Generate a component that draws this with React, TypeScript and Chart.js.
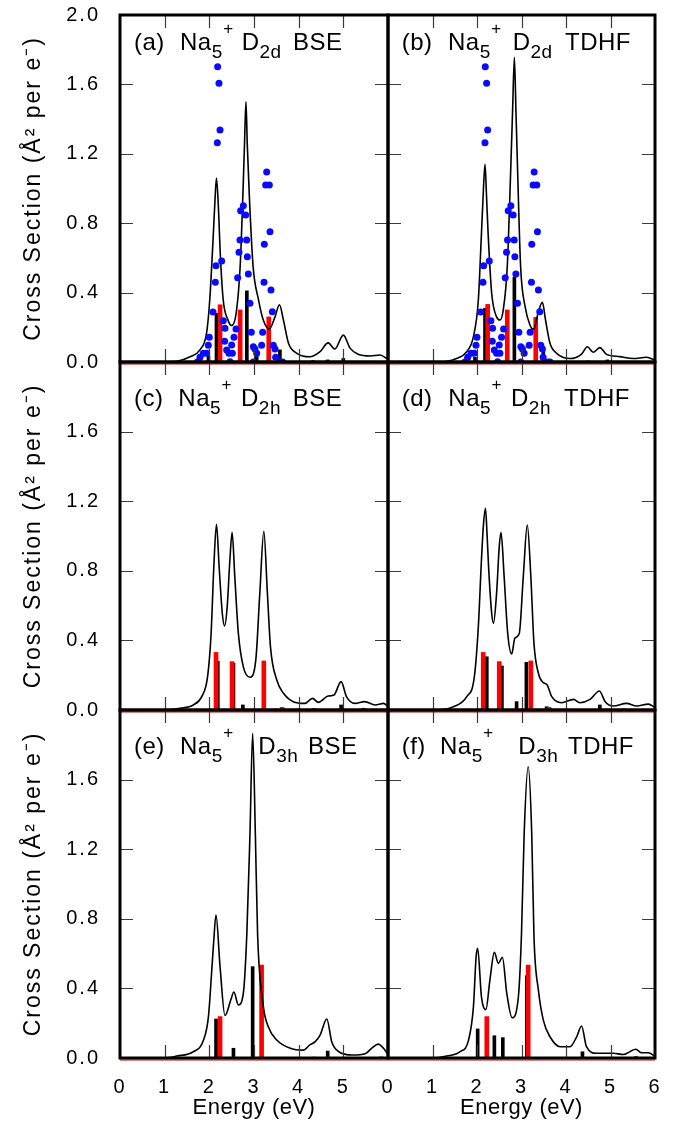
import React, { useEffect, useRef } from 'react';
import { Chart, registerables } from 'chart.js';

Chart.register(...registerables);

type Pt = [number, number];

// ---------- axis ticks ----------
const energyTicks = [0, 1, 2, 3, 4, 5, 6];
const sectionTicks = [0, 0.4, 0.8, 1.2, 1.6, 2.0];

// ---------- experimental points (shown in a and b) ----------
const expDots: Pt[] = [
  [2.186, 1.702], [2.216, 1.606], [2.239, 1.337], [2.179, 1.264], [2.276, 0.582], [2.149, 0.555],
  [2.134, 0.459], [2.082, 0.288], [2.313, 0.238], [1.999, 0.142], [1.977, 0.096], [1.94, 0.05],
  [1.865, 0.05], [1.791, 0.027], [1.731, 0.0], [2.35, 0.194], [2.343, 0.119], [2.388, 0.069],
  [2.44, 0.05], [2.515, 0.05], [2.463, 0.002], [2.761, 0.901], [2.701, 0.872], [2.813, 0.847],
  [2.686, 0.703], [2.836, 0.703], [2.664, 0.632], [2.851, 0.607], [2.873, 0.507], [2.634, 0.486],
  [2.91, 0.338], [2.597, 0.19], [2.552, 0.142], [2.5, 0.098], [2.94, 0.171], [2.985, 0.088],
  [3.022, 0.075], [3.06, 0.05], [2.985, 0.0], [3.284, 1.095], [3.261, 1.02], [3.343, 1.02],
  [3.358, 0.751], [3.231, 0.678], [3.38, 0.415], [3.224, 0.459], [3.41, 0.29], [3.194, 0.171],
  [3.172, 0.096], [3.433, 0.096], [3.47, 0.075], [3.485, 0.027], [3.582, 0.0], [3.642, 0.0],
];

// ---------- (a) D2d BSE ----------
const curveA: Pt[] = [
  [0, 0], [1.0, 0.0], [1.27, 0.004], [1.57, 0.03], [1.79, 0.07], [1.94, 0.17], [2.01, 0.36],
  [2.09, 0.74], [2.127, 0.934], [2.16, 1.06], [2.209, 0.857], [2.24, 0.65], [2.31, 0.36],
  [2.42, 0.24], [2.5, 0.21], [2.6, 0.28], [2.69, 0.55], [2.76, 1.03], [2.79, 1.28], [2.82, 1.5],
  [2.85, 1.25], [2.9, 0.93], [2.98, 0.55], [3.1, 0.36], [3.21, 0.24], [3.34, 0.19], [3.47, 0.26],
  [3.57, 0.33], [3.66, 0.24], [3.77, 0.11], [3.96, 0.05], [4.25, 0.03], [4.48, 0.06], [4.66, 0.11],
  [4.81, 0.075], [5.0, 0.155], [5.15, 0.08], [5.33, 0.045], [5.6, 0.035], [5.82, 0.04], [6.0, 0.015],
];
const redA: Pt[] = [[1.78, 0.02], [2.24, 0.33], [2.69, 0.3], [3.33, 0.26]];
const blackA: Pt[] = [[1.98, 0.035], [2.16, 0.28], [2.84, 0.41], [3.06, 0.035], [3.58, 0.07], [4.32, 0.008], [4.65, 0.012], [5.0, 0.02]];

// ---------- (b) D2d TDHF ----------
const curveB: Pt[] = [
  [0, 0], [1.17, 0.0], [1.54, 0.02], [1.77, 0.06], [1.92, 0.146], [2.03, 0.357], [2.1, 0.74],
  [2.14, 0.97], [2.18, 1.14], [2.215, 0.95], [2.25, 0.74], [2.33, 0.396], [2.44, 0.26], [2.52, 0.242],
  [2.59, 0.3], [2.68, 0.55], [2.76, 1.126], [2.8, 1.45], [2.84, 1.756], [2.875, 1.45], [2.91, 1.126],
  [2.98, 0.55], [3.08, 0.32], [3.19, 0.213], [3.27, 0.188], [3.38, 0.29], [3.47, 0.344], [3.54, 0.242],
  [3.64, 0.108], [3.79, 0.05], [4.09, 0.02], [4.35, 0.046], [4.48, 0.088], [4.61, 0.056], [4.76, 0.083],
  [4.91, 0.044], [5.21, 0.031], [5.51, 0.02], [5.81, 0.027], [6.0, 0.01],
];
const redB: Pt[] = [[1.77, 0.027], [2.24, 0.332], [2.68, 0.3], [3.32, 0.257]];
const blackB: Pt[] = [[1.955, 0.027], [2.18, 0.31], [2.84, 0.488], [3.49, 0.073], [4.5, 0.006], [4.93, 0.012]];

// ---------- (c) D2h BSE ----------
const curveC: Pt[] = [
  [0, 0], [1.0, 0.0], [1.34, 0.01], [1.64, 0.029], [1.83, 0.077], [1.96, 0.19], [2.04, 0.44],
  [2.1, 0.82], [2.16, 1.067], [2.22, 0.82], [2.29, 0.556], [2.34, 0.483], [2.4, 0.594], [2.46, 0.862],
  [2.51, 1.021], [2.57, 0.766], [2.65, 0.44], [2.76, 0.249], [2.91, 0.188], [3.04, 0.287], [3.13, 0.67],
  [3.22, 1.027], [3.3, 0.67], [3.37, 0.36], [3.51, 0.172], [3.66, 0.096], [3.88, 0.048], [4.14, 0.038],
  [4.31, 0.067], [4.44, 0.044], [4.66, 0.08], [4.79, 0.086], [4.95, 0.163], [5.07, 0.077], [5.26, 0.038],
  [5.48, 0.048], [5.71, 0.029], [5.9, 0.038], [6.0, 0.02],
];
const redC: Pt[] = [[2.15, 0.331], [2.51, 0.278], [3.22, 0.282], [3.63, 0.015]];
const blackC: Pt[] = [[2.19, 0.28], [2.54, 0.268], [2.75, 0.029], [3.47, 0.006], [4.0, 0.005], [4.35, 0.008], [4.95, 0.029], [5.45, 0.01]];

// ---------- (d) D2h TDHF ----------
const curveD: Pt[] = [
  [0, 0], [1.02, 0.0], [1.47, 0.019], [1.77, 0.077], [1.94, 0.19], [2.03, 0.479], [2.1, 0.862],
  [2.142, 1.054], [2.19, 1.159], [2.225, 1.015], [2.26, 0.824], [2.33, 0.556], [2.37, 0.498], [2.44, 0.67],
  [2.5, 0.939], [2.54, 1.021], [2.61, 0.766], [2.69, 0.44], [2.78, 0.322], [2.85, 0.412], [2.95, 0.44],
  [3.04, 0.766], [3.13, 1.063], [3.21, 0.766], [3.28, 0.383], [3.38, 0.211], [3.49, 0.157], [3.57, 0.147],
  [3.68, 0.077], [3.9, 0.042], [4.17, 0.061], [4.31, 0.042], [4.54, 0.061], [4.75, 0.109], [4.88, 0.048],
  [5.06, 0.023], [5.36, 0.038], [5.59, 0.023], [5.85, 0.034], [6.0, 0.015],
];
const redD: Pt[] = [[2.14, 0.331], [2.5, 0.278], [3.21, 0.282], [3.62, 0.015]];
const blackD: Pt[] = [[2.22, 0.306], [2.56, 0.253], [2.89, 0.048], [3.11, 0.274], [3.565, 0.019], [4.76, 0.029], [5.3, 0.006]];

// ---------- (e) D3h BSE ----------
const curveE: Pt[] = [
  [0, 0], [1.0, 0.0], [1.27, 0.011], [1.64, 0.036], [1.87, 0.103], [1.98, 0.238], [2.05, 0.487],
  [2.1, 0.678], [2.149, 0.822], [2.24, 0.525], [2.35, 0.244], [2.48, 0.333], [2.55, 0.379], [2.65, 0.305],
  [2.76, 0.37], [2.84, 0.716], [2.91, 1.29], [2.97, 1.866], [3.03, 1.29], [3.08, 0.716], [3.21, 0.295],
  [3.32, 0.18], [3.51, 0.103], [3.81, 0.056], [4.1, 0.045], [4.25, 0.075], [4.37, 0.094], [4.48, 0.132],
  [4.63, 0.224], [4.74, 0.094], [4.9, 0.036], [5.2, 0.017], [5.5, 0.026], [5.65, 0.06], [5.78, 0.08],
  [5.9, 0.056], [6.0, 0.02],
];
const redE: Pt[] = [[2.24, 0.238], [3.17, 0.534]];
const blackE: Pt[] = [[2.15, 0.224], [2.54, 0.056], [2.97, 0.525], [4.35, 0.005], [4.65, 0.04], [5.85, 0.006]];

// ---------- (f) D3h TDHF ----------
const curveF: Pt[] = [
  [0, 0], [1.0, 0.0], [1.32, 0.011], [1.62, 0.036], [1.81, 0.103], [1.92, 0.295], [1.98, 0.582],
  [2.015, 0.63], [2.1, 0.352], [2.2, 0.278], [2.29, 0.448], [2.39, 0.607], [2.48, 0.544], [2.57, 0.579],
  [2.67, 0.37], [2.79, 0.231], [2.93, 0.352], [3.0, 0.716], [3.06, 1.29], [3.15, 1.674], [3.23, 1.29],
  [3.28, 0.7], [3.38, 0.39], [3.49, 0.218], [3.64, 0.122], [3.87, 0.065], [4.09, 0.065], [4.24, 0.122],
  [4.35, 0.184], [4.46, 0.065], [4.69, 0.027], [5.06, 0.027], [5.29, 0.02], [5.57, 0.05], [5.7, 0.03],
  [5.85, 0.03], [6.0, 0.01],
];
const redF: Pt[] = [[2.22, 0.238], [3.15, 0.534]];
const blackF: Pt[] = [[2.015, 0.167], [2.39, 0.128], [2.58, 0.117], [3.12, 0.473], [4.37, 0.036], [5.57, 0.008]];

// ---------- panel labels ----------
const panelTags = ['(a)', '(b)', '(c)', '(d)', '(e)', '(f)'];
const panelSyms = ['2d', '2d', '2h', '2h', '3h', '3h'];
const panelMethods = ['BSE', 'TDHF', 'BSE', 'TDHF', 'BSE', 'TDHF'];

const yTitle = 'Cross Section (Å² per e⁻)';
const xTitle = 'Energy (eV)';

const FONT = '"Liberation Sans", Arial, Helvetica, sans-serif';

// layout (page pixels)
const COLS = [
  { cl: 0, cw: 400, padL: 0, padR: 12 },
  { cl: 376, cw: 313, padL: 12, padR: 34 },
];
const ROWS = [
  { ct: 0, ch: 380, padT: 15, padB: 18, titleDy: 35 },
  { ct: 344, ch: 384, padT: 18, padB: 18, titleDy: 44 },
  { ct: 692, ch: 447, padT: 18, padB: 0, titleDy: 44 },
];

interface PanelDef {
  idx: number;
  col: number;
  row: number;
  curve: Pt[];
  red: Pt[];
  black: Pt[];
  dots?: Pt[];
  xs: number[];
}

const PANELS: PanelDef[] = [
  { idx: 0, col: 0, row: 0, curve: curveA, red: redA, black: blackA, dots: expDots, xs: [14, 60, 121.7, 173] },
  { idx: 1, col: 1, row: 0, curve: curveB, red: redB, black: blackB, dots: expDots, xs: [13.7, 60, 124.7, 177] },
  { idx: 2, col: 0, row: 1, curve: curveC, red: redC, black: blackC, xs: [14, 58.3, 121, 172.7] },
  { idx: 3, col: 1, row: 1, curve: curveD, red: redD, black: blackD, xs: [13.7, 60.3, 123, 176] },
  { idx: 4, col: 0, row: 2, curve: curveE, red: redE, black: blackE, xs: [14, 60, 138.3, 188] },
  { idx: 5, col: 1, row: 2, curve: curveF, red: redF, black: blackF, xs: [13.7, 52, 130.3, 180] },
];

const toXY = (arr: Pt[]) => arr.map(([x, y]) => ({ x, y }));

function makeDecor(def: PanelDef) {
  const row = ROWS[def.row];
  return {
    id: 'decor' + def.idx,
    beforeDraw(chart: any) {
      const ctx = chart.ctx;
      if ('letterSpacing' in ctx) ctx.letterSpacing = '2px';
    },
    afterDraw(chart: any) {
      const ctx: CanvasRenderingContext2D = chart.ctx;
      const { left, right, top, bottom } = chart.chartArea;
      const xs = chart.scales.x;
      const ys = chart.scales.y;
      ctx.save();
      // inward tick marks on all four sides
      ctx.strokeStyle = '#3a3a3a';
      ctx.lineWidth = 1.2;
      ctx.beginPath();
      xs.ticks.forEach((t: any) => {
        if (t.value <= xs.min || t.value >= xs.max) return;
        const px = Math.round(xs.getPixelForValue(t.value)) + 0.5;
        ctx.moveTo(px, bottom);
        ctx.lineTo(px, bottom - 13);
        ctx.moveTo(px, top);
        ctx.lineTo(px, top + 13);
      });
      ys.ticks.forEach((t: any) => {
        if (t.value <= ys.min || t.value >= ys.max) return;
        const py = Math.round(ys.getPixelForValue(t.value)) + 0.5;
        ctx.moveTo(left, py);
        ctx.lineTo(left + 13, py);
        ctx.moveTo(right, py);
        ctx.lineTo(right - 13, py);
      });
      ctx.stroke();
      // thin red zero line under the frame
      ctx.strokeStyle = '#b00000';
      ctx.lineWidth = 1;
      ctx.beginPath();
      ctx.moveTo(left, bottom + 2);
      ctx.lineTo(right, bottom + 2);
      ctx.stroke();
      // frame
      ctx.strokeStyle = '#000';
      ctx.lineWidth = 3;
      ctx.strokeRect(left, top, right - left, bottom - top);
      // panel annotation
      if ('letterSpacing' in ctx) (ctx as any).letterSpacing = '0.5px';
      ctx.fillStyle = '#000';
      ctx.textAlign = 'left';
      ctx.textBaseline = 'alphabetic';
      const base = top + row.titleDy;
      const seg = (t: string, x: number, y: number, size: number) => {
        ctx.font = `${size}px ${FONT}`;
        ctx.fillText(t, x, y);
        return x + ctx.measureText(t).width;
      };
      seg(panelTags[def.idx], left + def.xs[0], base, 24);
      let x = seg('Na', left + def.xs[1], base, 24);
      x = seg('5', x, base + 8, 19);
      seg('+', x + 0.5, base - 16, 17);
      x = seg('D', left + def.xs[2], base, 24);
      seg(panelSyms[def.idx], x, base + 8, 19);
      seg(panelMethods[def.idx], left + def.xs[3], base, 24);
      // x-axis title for the bottom row
      if (def.row === 2) {
        ctx.font = `22px ${FONT}`;
        ctx.textAlign = 'center';
        ctx.textBaseline = 'middle';
        ctx.fillText(xTitle, (left + right) / 2, bottom + 50);
      }
      ctx.restore();
    },
  };
}

function buildConfig(def: PanelDef): any {
  const col = COLS[def.col];
  const row = ROWS[def.row];
  const showX = def.row === 2;
  const showY = def.col === 0;
  const datasets: any[] = [];
  if (def.dots) {
    datasets.push({
      type: 'scatter',
      data: toXY(def.dots),
      pointRadius: 3.5,
      pointBackgroundColor: '#0a0aff',
      pointBorderWidth: 0,
      showLine: false,
      order: 0,
    });
  }
  datasets.push({
    type: 'line',
    data: toXY(def.curve),
    borderColor: '#000',
    borderWidth: 1.6,
    pointRadius: 0,
    cubicInterpolationMode: 'monotone',
    fill: false,
    order: 1,
  });
  datasets.push({
    type: 'bar',
    data: toXY(def.red),
    backgroundColor: '#ff0000',
    barThickness: 4,
    grouped: false,
    order: 2,
  });
  datasets.push({
    type: 'bar',
    data: toXY(def.black),
    backgroundColor: '#000000',
    barThickness: 3,
    grouped: false,
    order: 3,
  });

  return {
    type: 'scatter',
    data: { datasets },
    options: {
      responsive: false,
      animation: false,
      devicePixelRatio: 1,
      events: [],
      layout: { padding: { left: col.padL, right: col.padR, top: row.padT, bottom: row.padB } },
      plugins: { legend: { display: false }, tooltip: { enabled: false }, title: { display: false } },
      scales: {
        x: {
          type: 'linear',
          min: 0,
          max: 6,
          offset: false,
          display: showX,
          afterBuildTicks: (s: any) => {
            s.ticks = energyTicks.map((v) => ({ value: v }));
          },
          ticks: {
            autoSkip: false,
            maxRotation: 0,
            color: '#000',
            padding: 9,
            font: { family: FONT, size: 20 },
            callback: (v: number) => (def.col === 0 && v === 6 ? '' : String(v)),
          },
          grid: { display: false },
          border: { display: false },
          title: { display: false },
          afterFit: showX
            ? (s: any) => {
                s.height = 81;
                s.paddingLeft = 0;
                s.paddingRight = 0;
              }
            : undefined,
        },
        y: {
          type: 'linear',
          min: 0,
          max: 2,
          display: showY,
          afterBuildTicks: (s: any) => {
            s.ticks = sectionTicks.map((v) => ({ value: v }));
          },
          ticks: {
            color: '#000',
            padding: 12,
            font: { family: FONT, size: 20 },
            callback: (v: number) => (def.row > 0 && v >= 2 ? '' : v.toFixed(1)),
          },
          grid: { display: false },
          border: { display: false },
          title: {
            display: showY,
            text: yTitle,
            color: '#000',
            font: { family: FONT, size: 23 },
            padding: { top: 20, bottom: 0 },
          },
          afterFit: showY
            ? (s: any) => {
                s.width = 120;
                s.paddingTop = 0;
                s.paddingBottom = 0;
              }
            : undefined,
        },
      },
    },
    plugins: [makeDecor(def)],
  };
}

function Panel({ def }: { def: PanelDef }) {
  const ref = useRef<HTMLCanvasElement>(null);
  const col = COLS[def.col];
  const row = ROWS[def.row];
  useEffect(() => {
    if (!ref.current) return;
    const chart = new Chart(ref.current, buildConfig(def));
    return () => chart.destroy();
  }, [def]);
  return (
    <canvas
      ref={ref}
      width={col.cw}
      height={row.ch}
      style={{ position: 'absolute', left: col.cl, top: row.ct, width: col.cw, height: row.ch }}
    />
  );
}

export default function App() {
  return (
    <div style={{ position: 'absolute', left: 0, top: 0, width: 689, height: 1139, background: '#fff', overflow: 'hidden' }}>
      {PANELS.map((p) => (
        <Panel key={p.idx} def={p} />
      ))}
    </div>
  );
}
